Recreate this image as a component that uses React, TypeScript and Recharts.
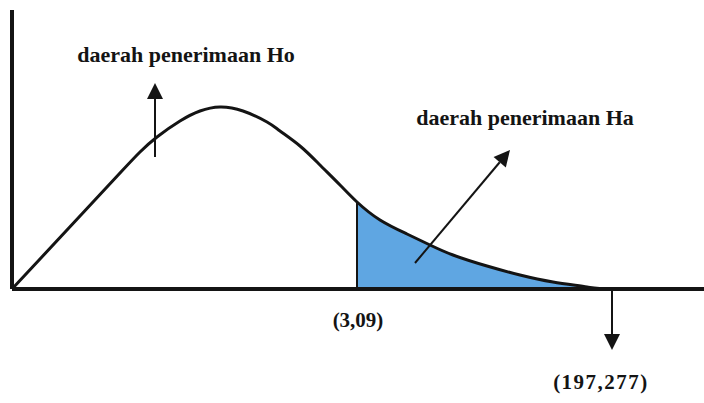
import React from "react";
import {
    ComposedChart,
    XAxis,
    YAxis,
    Area,
    ReferenceLine,
    ReferenceDot,
} from "recharts";

// curve (x from the y-axis, height above the x-axis)
const curveX = [0, 28, 68, 108, 128, 145, 168, 188, 208, 231, 255, 268, 288, 308, 328, 345, 368, 395, 418, 441, 475, 508, 541, 575, 601, 692];
const curveY = [0, 30, 73, 116, 137, 152, 168, 178, 182, 178, 167, 158, 143, 124, 104, 87, 69, 55, 44, 34, 23, 14, 7, 2, 0, 0];

// critical value on the x scale (start of the shaded region)
const critX = 345;

// annotation labels: text, x, baseline y, font size
const labels = [
    { text: "daerah penerimaan Ho", x: 174, y: 227, size: 22, spacing: 0 },
    { text: "daerah penerimaan Ha", x: 513, y: 164, size: 22, spacing: 0 },
    { text: "(3,09)", x: 346, y: -38, size: 21, spacing: 0 },
    { text: "(197,277)", x: 589, y: -100, size: 21, spacing: 1.5 },
];

// arrows: from -> to (arrow head at "to")
const arrows = [
    { from: { x: 143, y: 132 }, to: { x: 143, y: 206 } },
    { from: { x: 403, y: 26 }, to: { x: 498, y: 139 } },
    { from: { x: 600, y: 0 }, to: { x: 600, y: -61 } },
];

const data = curveX.map((x, i) => ({ x, y: curveY[i] }));

const maxX = curveX[curveX.length - 1];
const cut = critX / maxX;
const ink = "#141414";
const blue = "#5fa6e2";

const ArrowShape = (props: any) => {
    const { x1, y1, x2, y2 } = props;
    const a = Math.atan2(y2 - y1, x2 - x1);
    const len = 16;
    const half = 8;
    const bx = x2 - len * Math.cos(a);
    const by = y2 - len * Math.sin(a);
    const px = -Math.sin(a) * half;
    const py = Math.cos(a) * half;
    return (
        <g>
            <line x1={x1} y1={y1} x2={bx} y2={by} stroke={ink} strokeWidth={2}/>
            <polygon points={`${x2},${y2} ${bx + px},${by + py} ${bx - px},${by - py}`} fill={ink}/>
        </g>
    );
};

const App = () => {
    return (
        <div style={{position: "absolute", left: 0, top: 0, background: "#fff"}}>
            <ComposedChart
                width={704}
                height={403}
                data={data}
                margin={{top: 10, right: 0, left: 12, bottom: 114}}
            >
                <defs>
                    <linearGradient id="tail" x1="0" y1="0" x2="1" y2="0">
                        <stop offset={0} stopColor={blue} stopOpacity={0}/>
                        <stop offset={cut} stopColor={blue} stopOpacity={0}/>
                        <stop offset={cut} stopColor={blue} stopOpacity={1}/>
                        <stop offset={1} stopColor={blue} stopOpacity={1}/>
                    </linearGradient>
                </defs>
                <XAxis dataKey="x" type="number" domain={[0, maxX]} hide/>
                <YAxis type="number" domain={[0, 279]} hide/>

                <Area
                    dataKey="y"
                    type="natural"
                    fill="url(#tail)"
                    fillOpacity={1}
                    stroke={ink}
                    strokeWidth={3}
                    dot={false}
                    activeDot={false}
                    isAnimationActive={false}
                />

                <ReferenceLine x={0} stroke={ink} strokeWidth={4}/>
                <ReferenceLine y={0} stroke={ink} strokeWidth={4}/>
                <ReferenceLine
                    segment={[{x: critX, y: 0}, {x: critX, y: curveY[curveX.indexOf(critX)]}]}
                    stroke={ink}
                    strokeWidth={2}
                />

                {arrows.map((a, i) => (
                    <ReferenceLine
                        key={"arrow" + i}
                        segment={[a.from, a.to]}
                        ifOverflow="visible"
                        shape={ArrowShape}
                    />
                ))}

                {labels.map((l, i) => (
                    <ReferenceDot
                        key={"label" + i}
                        x={l.x}
                        y={l.y}
                        r={0}
                        ifOverflow="visible"
                        shape={(p: any) => (
                            <text
                                x={p.cx}
                                y={p.cy}
                                textAnchor="middle"
                                fontFamily="'Liberation Serif', serif"
                                fontWeight="bold"
                                fontSize={l.size}
                                letterSpacing={l.spacing}
                                fill={ink}
                            >
                                {l.text}
                            </text>
                        )}
                    />
                ))}
            </ComposedChart>
        </div>
    );
};

export default App;
